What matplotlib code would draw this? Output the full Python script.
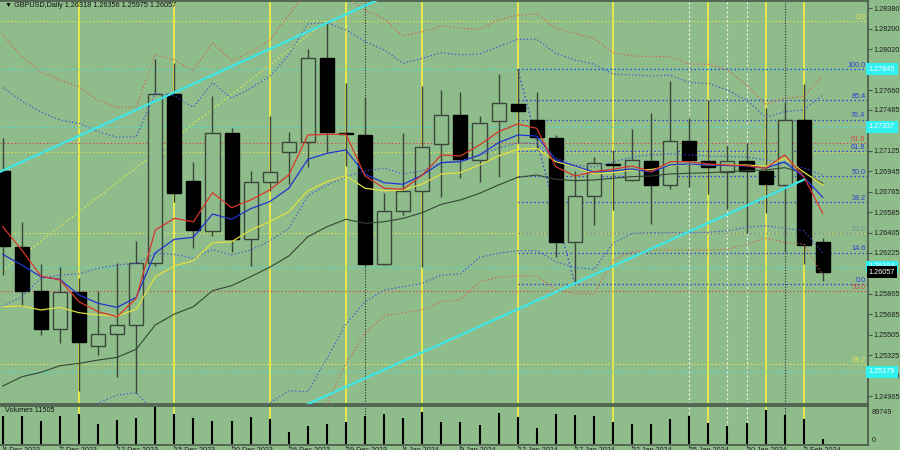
import numpy as np
import matplotlib
matplotlib.use('Agg')
import matplotlib.pyplot as plt
import matplotlib.transforms as mtransforms

plt.rcParams['font.family'] = ['Liberation Sans', 'DejaVu Sans']

# ---- values (GBPUSD daily, 44 bars) ----
date_ticks = [0, 3, 6, 9, 12, 15, 18, 21, 24, 27, 30, 33, 36, 39, 42]
date_labels = ['4 Dec 2023', '7 Dec 2023', '12 Dec 2023', '15 Dec 2023', '20 Dec 2023',
               '26 Dec 2023', '29 Dec 2023', '4 Jan 2024', '9 Jan 2024', '12 Jan 2024',
               '17 Jan 2024', '22 Jan 2024', '25 Jan 2024', '30 Jan 2024', '2 Feb 2024']

opens = [1.26950, 1.26280, 1.25893, 1.25553, 1.25884, 1.25406, 1.25509, 1.25588, 1.26134, 1.27625,
         1.26862, 1.26421, 1.27279, 1.26345, 1.26847, 1.27112, 1.27205, 1.27940, 1.27283, 1.27264,
         1.26125, 1.26597, 1.26773, 1.27185, 1.27440, 1.27044, 1.27387, 1.27537, 1.27396, 1.27235,
         1.26324, 1.26727, 1.27009, 1.26868, 1.27038, 1.26824, 1.27211, 1.27038, 1.26936, 1.27038,
         1.26950, 1.26824, 1.27396, 1.26318]
highs = [1.27238, 1.26500, 1.26125, 1.26104, 1.26002, 1.25893, 1.26139, 1.26333, 1.27931, 1.27896,
         1.27029, 1.27608, 1.27323, 1.26950, 1.27431, 1.27293, 1.28019, 1.28259, 1.27719, 1.27596,
         1.26751, 1.27284, 1.27696, 1.27660, 1.27645, 1.27431, 1.27799, 1.27843, 1.27645, 1.27264,
         1.26950, 1.27073, 1.27132, 1.27314, 1.27460, 1.27740, 1.27411, 1.27572, 1.27176, 1.27196,
         1.27499, 1.27557, 1.27713, 1.26356]
lows = [1.26031, 1.25758, 1.25502, 1.25429, 1.25012, 1.25326, 1.25130, 1.24994, 1.26110, 1.26677,
        1.26271, 1.26374, 1.26236, 1.26110, 1.26773, 1.26832, 1.26980, 1.27117, 1.26991, 1.26110,
        1.26120, 1.26559, 1.26099, 1.26721, 1.26883, 1.26853, 1.26891, 1.27191, 1.27132, 1.26187,
        1.25958, 1.26471, 1.26603, 1.26855, 1.26480, 1.26786, 1.26803, 1.26744, 1.26610, 1.26398,
        1.26574, 1.26236, 1.26128, 1.25975]
closes = [1.26286, 1.25893, 1.25553, 1.25884, 1.25443, 1.25509, 1.25588, 1.26139, 1.27625, 1.26751,
          1.26427, 1.27279, 1.26345, 1.26853, 1.26941, 1.27205, 1.27940, 1.27293, 1.27277, 1.26125,
          1.26597, 1.26773, 1.27156, 1.27440, 1.27050, 1.27372, 1.27543, 1.27475, 1.27244, 1.26324,
          1.26727, 1.27020, 1.27004, 1.27044, 1.26824, 1.27214, 1.27044, 1.26985, 1.27038, 1.26950,
          1.26832, 1.27396, 1.26295, 1.26057]
volumes = [67900, 67900, 55800, 67900, 74500, 48500, 58200, 63800, 89749, 72800,
           63800, 55800, 56500, 64800, 62300, 28400, 43700, 49200, 54100, 68600,
           74500, 63100, 77600, 52600, 53400, 46100, 75200, 64800, 39500, 74500,
           72000, 69600, 54100, 48500, 49200, 60600, 67900, 50900, 44400, 50900,
           82500, 72000, 62300, 11505]

# moving averages (solid)
ma_red = [1.26456, 1.26251, 1.26022, 1.25987, 1.25796, 1.25708, 1.25664, 1.25826, 1.26427, 1.26530,
          1.26500, 1.26756, 1.26624, 1.26692, 1.26780, 1.26912, 1.27264, 1.27270, 1.27270, 1.26903,
          1.26795, 1.26786, 1.26912, 1.27088, 1.27079, 1.27176, 1.27293, 1.27361, 1.27323, 1.26985,
          1.26903, 1.26941, 1.26962, 1.26991, 1.26941, 1.27029, 1.27029, 1.27009, 1.27000, 1.26994,
          1.26971, 1.27088, 1.26897, 1.26574]
ma_blue = [1.26213, 1.26119, 1.26016, 1.25993, 1.25855, 1.25782, 1.25746, 1.25834, 1.26227, 1.26345,
           1.26363, 1.26568, 1.26522, 1.26615, 1.26677, 1.26795, 1.27050, 1.27103, 1.27132, 1.26918,
           1.26844, 1.26830, 1.26912, 1.27020, 1.27029, 1.27088, 1.27196, 1.27264, 1.27255, 1.27044,
           1.26991, 1.26938, 1.26947, 1.26965, 1.26938, 1.27000, 1.27009, 1.27000, 1.26995, 1.26991,
           1.26973, 1.27026, 1.26894, 1.26715]
ma_yellow = [1.25752, 1.25758, 1.25723, 1.25746, 1.25699, 1.25679, 1.25670, 1.25729, 1.26016, 1.26110,
             1.26157, 1.26315, 1.26324, 1.26427, 1.26500, 1.26588, 1.26773, 1.26853, 1.26903, 1.26795,
             1.26773, 1.26780, 1.26832, 1.26921, 1.26932, 1.27000, 1.27079, 1.27138, 1.27147, 1.27029,
             1.26985, 1.26921, 1.26934, 1.26956, 1.26960, 1.26991, 1.27009, 1.27000, 1.27000, 1.27000,
             1.26987, 1.27059, 1.26938, 1.26824]
ma_dark = [1.25053, 1.25135, 1.25174, 1.25232, 1.25253, 1.25282, 1.25306, 1.25377, 1.25591, 1.25687,
           1.25752, 1.25893, 1.25937, 1.26016, 1.26099, 1.26198, 1.26368, 1.26456, 1.26522, 1.26486,
           1.26500, 1.26530, 1.26580, 1.26654, 1.26692, 1.26750, 1.26824, 1.26891, 1.26912, 1.26874,
           1.26862, 1.26868, 1.26883, 1.26897, 1.26903, 1.26921, 1.26927, 1.26932, 1.26941, 1.26950,
           1.26956, 1.26976, 1.26932, 1.26839]

# dotted bands
band_red_up = [1.28145, 1.27960, 1.27819, 1.27748, 1.27689, 1.27572, 1.27508, 1.27508, 1.27969, 1.27925,
               1.27830, 1.28077, 1.27918, 1.27998, 1.28101, 1.28321, 1.28541, 1.28585, 1.28480, 1.28365,
               1.28286, 1.28136, 1.28174, 1.28224, 1.28204, 1.28195, 1.28277, 1.28321, 1.28330, 1.28204,
               1.28160, 1.28116, 1.27989, 1.27960, 1.27954, 1.27954, 1.27889, 1.27887, 1.27837, 1.27704,
               1.27537, 1.27587, 1.27601, 1.27784]
band_blue_up = [1.27681, 1.27564, 1.27467, 1.27396, 1.27367, 1.27293, 1.27244, 1.27249, 1.27631, 1.27608,
                1.27508, 1.27725, 1.27587, 1.27675, 1.27778, 1.27969, 1.28242, 1.28253, 1.28189, 1.28086,
                1.28013, 1.27896, 1.27940, 1.27989, 1.27969, 1.27977, 1.28042, 1.28107, 1.28107, 1.27984,
                1.27925, 1.27887, 1.27801, 1.27793, 1.27784, 1.27790, 1.27725, 1.27719, 1.27660, 1.27572,
                1.27420, 1.27469, 1.27484, 1.27616]
band_mid = [1.25758, 1.25840, 1.26002, 1.26031, 1.26040, 1.26090, 1.26119, 1.26134, 1.26222, 1.26213,
            1.26178, 1.26257, 1.26207, 1.26251, 1.26330, 1.26442, 1.26727, 1.26824, 1.26897, 1.26947,
            1.26973, 1.26921, 1.26947, 1.27022, 1.27039, 1.27083, 1.27150, 1.27194, 1.27189, 1.27061,
            1.27000, 1.26982, 1.27026, 1.27070, 1.27088, 1.27097, 1.27088, 1.27079, 1.27075, 1.27070,
            1.27044, 1.27017, 1.26973, 1.26912]
band_blue_dn = [1.23838, 1.24120, 1.24534, 1.24666, 1.24710, 1.24904, 1.24974, 1.24994, 1.24815, 1.24815,
                1.24851, 1.24789, 1.24824, 1.24824, 1.24904, 1.25012, 1.25003, 1.25297, 1.25599, 1.25796,
                1.25899, 1.25928, 1.25958, 1.26031, 1.26040, 1.26187, 1.26222, 1.26245, 1.26245, 1.26148,
                1.26099, 1.26081, 1.26310, 1.26398, 1.26404, 1.26404, 1.26404, 1.26407, 1.26421, 1.26451,
                1.26465, 1.26442, 1.26421, 1.26225]
band_red_dn = [1.23371, 1.23723, 1.24181, 1.24313, 1.24393, 1.24604, 1.24727, 1.24763, 1.24472, 1.24498,
               1.24525, 1.24437, 1.24498, 1.24507, 1.24534, 1.24560, 1.24666, 1.24901, 1.25253, 1.25517,
               1.25670, 1.25699, 1.25723, 1.25796, 1.25811, 1.25972, 1.26011, 1.26022, 1.26022, 1.25905,
               1.25864, 1.25864, 1.26163, 1.26236, 1.26251, 1.26251, 1.26251, 1.26251, 1.26257, 1.26304,
               1.26354, 1.26319, 1.26304, 1.26031]

# objects drawn on the chart
yellow_levels = [1.28268, 1.27112, 1.26398, 1.25244]
red_levels = [1.27191, 1.25890]
cyan_levels = [1.27845, 1.27337, 1.26104, 1.25179]
fib_start = 27
fib_levels = [1.27845, 1.27569, 1.27398, 1.27122, 1.26899, 1.26675, 1.26399, 1.26228, 1.25952]
fib_names = ['100.0', '85.4', '76.4', '61.8', '50.0', '38.2', '23.6', '14.6', '0.0']
level_tags = [('0.0', 1.28268, '#e8e84a'), ('61.8', 1.27191, '#d84a3a'),
              ('38.2', 1.25244, '#e8e84a'), ('50.0', 1.25890, '#d84a3a')]
cyan1_x, cyan1_y = [-0.5, 20], [1.26912, 1.28480]
cyan2_x, cyan2_y = [15, 42], [1.24818, 1.26870]
ydiag_x, ydiag_y = [-0.5, 17], [1.26005, 1.28268]
fibdiag_x, fibdiag_y = [27, 30], [1.27845, 1.25952]
vlines_yellow = [4, 9, 14, 18, 22, 27, 32, 37, 40, 42]
vlines_white = [36, 38, 39]
vlines_black = [19, 41]
price_ticks = [1.28380, 1.28200, 1.28020, 1.27660, 1.27485, 1.27125, 1.26945,
               1.26765, 1.26585, 1.26405, 1.26225, 1.25865, 1.25685, 1.25505, 1.25325,
               1.25145, 1.24965]

bg = '#8fbc8b'
frame = '#4a584a'
dot = (0, (1.2, 2.0))
x = np.arange(len(opens))
o, h, l, c = map(np.array, (opens, highs, lows, closes))

fig = plt.figure(figsize=(9, 4.5), dpi=100, facecolor=bg)
ax = fig.add_axes([0, 46 / 450, 868 / 900, 403 / 450], facecolor=bg)
axv = fig.add_axes([0, 5 / 450, 868 / 900, 39 / 450], facecolor=bg)

for a in (ax, axv):
    a.set_xlim(-0.1416, 45.37)
    for s in a.spines.values():
        s.set_color(frame)
        s.set_linewidth(1.2)
    a.spines['left'].set_visible(False)
    for v in vlines_yellow:
        a.axvline(v, color='#e8e84a', lw=1.4, zorder=1)
    for v in vlines_white:
        a.axvline(v, color='#eef4e8', lw=0.8, ls=(0, (2, 2)), zorder=1)
    for v in vlines_black:
        a.axvline(v, color='#2a2a2a', lw=0.8, ls=(0, (1, 1.5)), zorder=1)

ax.set_ylim(1.24895, 1.28444)

# horizontal levels
for lv in yellow_levels:
    ax.axhline(lv, color='#e8e84a', lw=0.8, ls=dot, zorder=1.2)
for lv in red_levels:
    ax.axhline(lv, color='#d84a3a', lw=0.8, ls=dot, zorder=1.2)
for lv in cyan_levels:
    ax.axhline(lv, color='#3ee0e0', lw=0.8, ls=dot, zorder=1.2)
for lv, nm in zip(fib_levels, fib_names):
    col = '#7a8a9a' if nm == '23.6' else '#3040d8'
    ax.hlines(lv, fib_start, 46, color=col, lw=0.9, ls=dot, zorder=1.3)
ax.plot(fibdiag_x, fibdiag_y, color='#3040d8', lw=0.9, ls=dot, zorder=1.3)
ax.plot(ydiag_x, ydiag_y, color='#e8e84a', lw=0.9, ls=dot, zorder=1.3)

# candles
up = c >= o
ax.vlines(x, l, h, color='#3a463a', lw=1.0, zorder=2)
body_lo = np.minimum(o, c)
body_h = np.maximum(np.abs(c - o), 0.000005)
ax.bar(x[up], body_h[up], bottom=body_lo[up], width=0.74, color=bg,
       edgecolor='#3a463a', linewidth=1.0, zorder=3)
ax.bar(x[~up], body_h[~up], bottom=body_lo[~up], width=0.74, color='black',
       edgecolor='black', linewidth=1.0, zorder=3)

# bands and averages
ax.plot(x, band_red_up, color='#d8604a', lw=0.8, ls=dot, zorder=4)
ax.plot(x, band_red_dn, color='#d8604a', lw=0.8, ls=dot, zorder=4)
ax.plot(x, band_blue_up, color='#3a50d8', lw=0.8, ls=dot, zorder=4)
ax.plot(x, band_blue_dn, color='#3a50d8', lw=0.8, ls=dot, zorder=4)
ax.plot(x, band_mid, color='#3a50d8', lw=0.8, ls=dot, zorder=4)
ax.plot(x, ma_dark, color='#354535', lw=0.8, zorder=5)
ax.plot(x, ma_yellow, color='#e0e040', lw=0.9, zorder=5)
ax.plot(x, ma_blue, color='#2035d0', lw=0.9, zorder=5)
ax.plot(x, ma_red, color='#d8362a', lw=0.9, zorder=5)
ax.plot(cyan1_x, cyan1_y, color='#3ee6e6', lw=1.6, zorder=6)
ax.plot(cyan2_x, cyan2_y, color='#3ee6e6', lw=1.6, zorder=6)

# level labels
blend = mtransforms.blended_transform_factory(ax.transAxes, ax.transData)
for lv, nm in zip(fib_levels, fib_names):
    col = '#7a8a9a' if nm == '23.6' else '#3040d8'
    ax.text(0.997, lv + 0.00003, nm, transform=blend, ha='right', va='bottom',
            fontsize=5.2, color=col, zorder=7)
for nm, lv, col in level_tags:
    ax.text(0.997, lv + 0.00003, nm, transform=blend, ha='right', va='bottom',
            fontsize=5.2, color=col, zorder=7)

# right price scale
ax.yaxis.tick_right()
ax.set_yticks(price_ticks)
ax.set_yticklabels(['%.5f' % t for t in price_ticks])
ax.tick_params(axis='y', length=3, width=0.8, color=frame, labelsize=5.2, pad=1.2, labelcolor='#202020')
ax.set_xticks([])
for lv in cyan_levels:
    ax.text(1.001, lv, '%.5f' % lv, transform=blend, ha='left', va='center', fontsize=5.2,
            color='white', clip_on=False, zorder=8,
            bbox=dict(boxstyle='square,pad=0.35', fc='#30f0f0', ec='none'))
ax.text(1.001, closes[-1], '%.5f' % closes[-1], transform=blend, ha='left', va='center',
        fontsize=5.2, color='white', clip_on=False, zorder=8,
        bbox=dict(boxstyle='square,pad=0.3', fc='black', ec='none'))

ax.text(0.006, 0.997, '\u25bc GBPUSD,Daily %.5f %.5f %.5f %.5f' % (opens[-1], highs[-1], lows[-1], closes[-1]),
        transform=ax.transAxes, ha='left', va='top', fontsize=5.2, color='#101010', zorder=9)

# volume panel
axv.vlines(x, 0, volumes, color='black', lw=1.5, zorder=3)
axv.set_ylim(-2426, 92900)
axv.set_yticks([])
axv.set_xticks(date_ticks)
axv.set_xticklabels([])
axv.tick_params(axis='x', length=2.5, width=0.8, color=frame)
axv.text(0.006, 0.97, 'Volumes %d' % volumes[-1], transform=axv.transAxes, ha='left', va='top',
         fontsize=5.2, color='#101010')
axv.text(1.004, 0.93, '%d' % max(volumes), transform=axv.transAxes, ha='left', va='top',
         fontsize=5.2, color='#202020', clip_on=False)
axv.text(1.004, 0.02, '0', transform=axv.transAxes, ha='left', va='bottom',
         fontsize=5.2, color='#202020', clip_on=False)
for t, lab in zip(date_ticks, date_labels):
    axv.text(t, -0.06, lab, transform=mtransforms.blended_transform_factory(axv.transData, axv.transAxes),
             ha='left', va='top', fontsize=5.2, color='#202020', clip_on=False)

fig.savefig('out.png', dpi=100, facecolor=bg)
